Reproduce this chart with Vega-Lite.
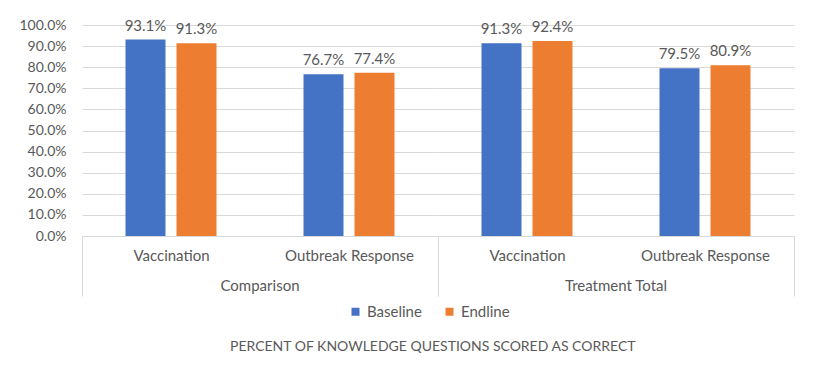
{
  "$schema": "https://vega.github.io/schema/vega-lite/v6.json",
  "padding": {"left": 18, "top": 18, "right": 24, "bottom": 20},
  "background": "white",
  "data": {"values": [
    {"group": "Comparison", "category": "Vaccination", "series": "Baseline", "value": 0.931},
    {"group": "Comparison", "category": "Vaccination", "series": "Endline", "value": 0.913},
    {"group": "Comparison", "category": "Outbreak Response", "series": "Baseline", "value": 0.767},
    {"group": "Comparison", "category": "Outbreak Response", "series": "Endline", "value": 0.774},
    {"group": "Treatment Total", "category": "Vaccination", "series": "Baseline", "value": 0.913},
    {"group": "Treatment Total", "category": "Vaccination", "series": "Endline", "value": 0.924},
    {"group": "Treatment Total", "category": "Outbreak Response", "series": "Baseline", "value": 0.795},
    {"group": "Treatment Total", "category": "Outbreak Response", "series": "Endline", "value": 0.809}
  ]},
  "facet": {
    "column": {
      "field": "group", "type": "nominal", "sort": ["Comparison", "Treatment Total"],
      "header": {"title": null, "labelOrient": "bottom", "labelFont": "Lato", "labelFontSize": 15, "labelColor": "#595959", "labelPadding": -18}
    }
  },
  "spacing": 0,
  "spec": {
    "width": 356,
    "height": 211,
    "encoding": {
      "x": {
        "field": "category", "type": "nominal", "sort": ["Vaccination", "Outbreak Response"],
        "scale": {"paddingInner": 0, "paddingOuter": 0},
        "axis": {
          "title": null, "labelAngle": 0, "labelFont": "Lato", "labelFontSize": 15, "labelColor": "#595959",
          "domainColor": "#d9d9d9", "tickColor": "#d9d9d9", "tickBand": "extent", "tickSize": 60,
          "tickOpacity": {"condition": {"test": "datum.value === 'Vaccination'", "value": 0}, "value": 1},
          "labelPadding": -48
        }
      },
      "xOffset": {"field": "series", "type": "nominal", "scale": {"paddingInner": 0.2157, "paddingOuter": 0.853}},
      "y": {
        "field": "value", "type": "quantitative", "scale": {"domain": [0, 1]},
        "axis": {
          "title": null, "format": ".1%", "values": [0, 0.1, 0.2, 0.3, 0.4, 0.5, 0.6, 0.7, 0.8, 0.9, 1],
          "domain": false, "ticks": false, "gridColor": "#d9d9d9", "labelPadding": 16,
          "labelFont": "Lato", "labelFontSize": 14, "labelColor": "#595959"
        }
      }
    },
    "layer": [
      {
        "mark": {"type": "bar"},
        "encoding": {
          "color": {
            "field": "series", "type": "nominal",
            "scale": {"domain": ["Baseline", "Endline"], "range": ["#4472C4", "#ED7D31"]},
            "legend": {
              "title": null, "orient": "none", "legendX": 266, "legendY": 279, "direction": "horizontal", "symbolType": "square",
              "symbolSize": 64, "columnPadding": 20, "labelFont": "Lato", "labelFontSize": 15, "labelColor": "#595959"
            }
          }
        }
      },
      {
        "mark": {"type": "text", "baseline": "bottom", "dy": -6, "font": "Lato", "fontSize": 15, "color": "#595959"},
        "encoding": {"text": {"field": "value", "type": "quantitative", "format": ".1%"}}
      }
    ]
  },
  "title": {
    "text": "PERCENT OF KNOWLEDGE QUESTIONS SCORED AS CORRECT",
    "orient": "bottom", "anchor": "middle", "font": "Lato", "fontSize": 14, "fontWeight": "normal", "color": "#595959", "offset": 20, "dx": 26
  },
  "config": {"view": {"stroke": null}, "font": "Lato"}
}
